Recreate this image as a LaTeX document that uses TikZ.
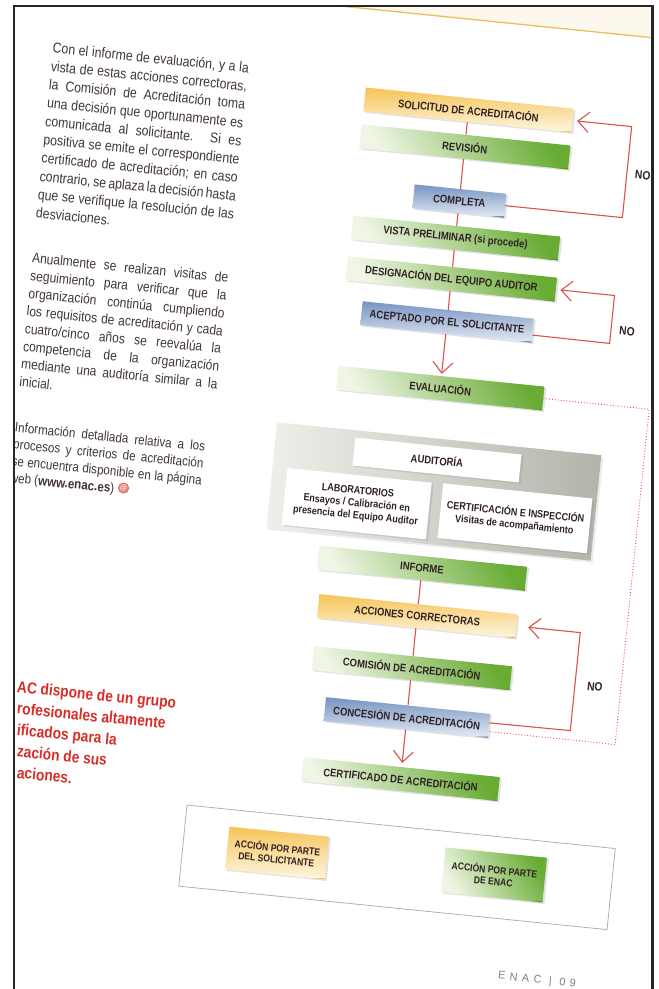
\documentclass[tikz,border=0pt]{standalone}
\usepackage{fontspec}
\setmainfont{Liberation Sans}
\newfontfamily\condfont[FakeStretch=0.86]{Liberation Sans}
\newfontfamily\folfont[LetterSpace=40]{Liberation Sans}
\usetikzlibrary{arrows.meta,shadows}
\definecolor{gnDark}{RGB}{104,172,52}
\definecolor{gnLight}{RGB}{240,246,230}
\definecolor{gnEdge}{RGB}{88,150,44}
\definecolor{ylDark}{RGB}{246,196,88}
\definecolor{ylLight}{RGB}{253,246,226}
\definecolor{ylEdge}{RGB}{232,172,62}
\definecolor{blDark}{RGB}{118,148,194}
\definecolor{blLight}{RGB}{228,234,244}
\definecolor{blEdge}{RGB}{68,98,158}
\definecolor{panelL}{RGB}{240,240,235}
\definecolor{panelR}{RGB}{178,180,170}
\definecolor{arrowRed}{RGB}{218,82,72}
\definecolor{textRed}{RGB}{214,46,40}
\definecolor{bodyText}{RGB}{66,52,62}
\definecolor{boxText}{RGB}{48,32,36}
\definecolor{legendLine}{RGB}{190,172,160}
\definecolor{topCream}{RGB}{252,248,238}
\definecolor{topLine}{RGB}{236,188,96}
\definecolor{frameGray}{RGB}{38,38,38}
\newcommand\jline[2][197pt]{\makebox[#1][s]{#2}}
\begin{document}
\begin{tikzpicture}[x=1pt,y=1pt,
  tabbox/.style={inner sep=0pt, minimum height=24pt, text=boxText,
    font=\condfont\bfseries\fontsize{11}{12}\selectfont,
    drop shadow={shadow xshift=2pt, shadow yshift=-1.5pt, opacity=.22}},
  greenbox/.style={tabbox, left color=gnLight, right color=gnDark, shading angle=120,
    path picture={\draw[gnEdge, line width=2.4pt] (path picture bounding box.south west) -- (path picture bounding box.south east);}},
  yellowbox/.style={tabbox, top color=ylDark, bottom color=ylLight,
    path picture={\draw[ylEdge, line width=2.4pt] (path picture bounding box.south west) -- (path picture bounding box.south east);}},
  bluebox/.style={tabbox, top color=blDark, bottom color=blLight,
    path picture={\draw[blEdge, line width=2.4pt] (path picture bounding box.south west) -- (path picture bounding box.south east);}},
  whitebox/.style={tabbox, fill=white, align=center,
    font=\condfont\bfseries\fontsize{10.5}{12.5}\selectfont},
  panelbox/.style={inner sep=0pt, left color=panelL, right color=panelR,
    drop shadow={shadow xshift=2pt, shadow yshift=-2pt, opacity=.15}},
  bodytext/.style={inner sep=0pt, anchor=north west, align=left, text=bodyText},
  nolabel/.style={inner sep=0pt, text=boxText, font=\condfont\bfseries\fontsize{12}{12}\selectfont},
  link/.style={draw=arrowRed, line width=1.1pt},
  flow/.style={link, -{Straight Barb[length=11pt, width=20pt]}},
  dotline/.style={draw=arrowRed, line width=.9pt, dotted}]
\useasboundingbox (0,0) rectangle (659,-989);
\begin{scope}
\clip (15.4,-7.4) rectangle (650.9,-995);
\begin{scope}[rotate around={-5.8:(440,-480)}, transform shape]
\fill[topCream] (150,-18.5) rectangle (760,80);
\draw[topLine, line width=1.3pt] (150,-18.5) -- (760,-18.5);
\node[bodytext, font=\condfont\fontsize{14.3}{18.4}\selectfont] (para1) at (11,-83.5){\jline{Con el informe de evaluación, y a la}\\
\jline{vista de estas acciones correctoras,}\\
\jline{la Comisión de Acreditación toma}\\
\jline{una decisión que oportunamente es}\\
\jline{comunicada al solicitante. Si es}\\
\jline{positiva se emite el correspondiente}\\
\jline{certificado de acreditación; en caso}\\
\jline{contrario, se aplaza la decisión hasta}\\
\jline{que se verifique la resolución de las}\\
desviaciones.};
\node[bodytext, font=\condfont\fontsize{14}{17.8}\selectfont] (para2) at (11.7,-294.7){\jline{Anualmente se realizan visitas de}\\
\jline{seguimiento para verificar que la}\\
\jline{organización continúa cumpliendo}\\
\jline{los requisitos de acreditación y cada}\\
\jline{cuatro/cinco años se reevalúa la}\\
\jline{competencia de la organización}\\
\jline{mediante una auditoría similar a la}\\
inicial.};
\node[bodytext, font=\condfont\fontsize{13.5}{16.9}\selectfont] (para3) at (11.8,-465){\jline[191pt]{Información detallada relativa a los}\\
\jline[191pt]{procesos y criterios de acreditación}\\
\jline[191pt]{se encuentra disponible en la página}\\
web (\textbf{www.enac.es})};
\node[circle, fill=arrowRed!70, draw=arrowRed, text=white, inner sep=.5pt, font=\bfseries\fontsize{7}{7}\selectfont] (webicon) at (126,-520){@};
\node[bodytext, text=textRed, font=\condfont\bfseries\fontsize{16}{21.4}\selectfont] (staff) at (40,-722){AC dispone de un grupo\\
\hspace*{2.2pt}rofesionales altamente\\
\hspace*{4.3pt}ificados para la\\
\hspace*{6.5pt}zación de sus\\
\hspace*{8.7pt}aciones.};
\node[panelbox, minimum width=326pt, minimum height=106pt] (panel) at (435,-492){};
\node[yellowbox, minimum width=209pt] (solic) at (431,-109){SOLICITUD DE ACREDITACIÓN};
\node[greenbox, minimum width=210pt] (revis) at (431,-146){REVISIÓN};
\draw[link](solic) -- (revis);
\node[bluebox, minimum width=92pt] (compl) at (431,-200.5){COMPLETA};
\draw[link](revis) -- (compl);
\node[greenbox, minimum width=208pt] (vista) at (431,-237.6){VISTA PRELIMINAR (si procede)};
\draw[link](compl) -- (vista);
\node[greenbox, minimum width=210pt] (desig) at (431,-278.8){DESIGNACIÓN DEL EQUIPO AUDITOR};
\draw[link](vista) -- (desig);
\node[bluebox, minimum width=172pt] (acept) at (431,-322){ACEPTADO POR EL SOLICITANTE};
\draw[link](desig) -- (acept);
\node[greenbox, minimum width=207pt] (evalu) at (431,-388.5){EVALUACIÓN};
\draw[flow, shorten >=2pt](acept) -- (evalu);
\coordinate (bend1a) at (595,-200.5);
\coordinate (bend1b) at (595,-109);
\draw[flow, shorten >=4.5pt](compl.east) -- (bend1a) -- (bend1b) -- (solic.east);
\node[nolabel] (no1) at (611,-156){NO};
\coordinate (bend2a) at (595,-327);
\coordinate (bend2b) at (595,-278.8);
\draw[flow, shorten >=4.5pt](acept.-3.3) -- (bend2a) -- (bend2b) -- (desig.east);
\node[nolabel] (no2) at (611,-313){NO};
\node[whitebox, minimum width=167pt, minimum height=28pt, font=\condfont\bfseries\fontsize{11}{12}\selectfont] (audit) at (435,-460.4){AUDITORÍA};
\node[whitebox, minimum width=145pt, minimum height=57pt] (labor) at (359.5,-512){LABORATORIOS\\Ensayos / Calibración en\\presencia del Equipo Auditor};
\node[whitebox, minimum width=150pt, minimum height=55pt] (certi) at (518.5,-510.5){CERTIFICACIÓN E INSPECCIÓN\\Visitas de acompañamiento};
\node[greenbox, minimum width=209pt] (infor) at (431,-569.5){INFORME};
\node[yellowbox, minimum width=199pt] (accio) at (431,-617.7){ACCIONES CORRECTORAS};
\draw[link](infor) -- (accio);
\node[greenbox, minimum width=199pt] (comis) at (431,-670){COMISIÓN DE ACREDITACIÓN};
\draw[link](accio) -- (comis);
\node[bluebox, minimum width=165pt] (conce) at (431,-719.6){CONCESIÓN DE ACREDITACIÓN};
\draw[link](comis) -- (conce);
\node[greenbox, minimum width=197pt] (certa) at (431,-781.5){CERTIFICADO DE ACREDITACIÓN};
\draw[flow, shorten >=4pt](conce) -- (certa);
\coordinate (bend3a) at (595,-716.2);
\coordinate (bend3b) at (595,-617.7);
\draw[flow, shorten >=12pt](conce.2.4) -- (bend3a) -- (bend3b) -- (accio.east);
\node[nolabel] (no3) at (615,-670){NO};
\coordinate (dot1) at (641,-388.5);
\coordinate (dot2) at (641,-725.5);
\draw[dotline](evalu.east) -- (dot1) -- (dot2) -- (conce.-4.1);
\node[draw=legendLine, line width=.8pt, minimum width=430.5pt, minimum height=81.5pt, inner sep=0pt] (legend) at (436.4,-869.7){};
\node[yellowbox, minimum width=100pt, minimum height=43pt, align=center, font=\condfont\bfseries\fontsize{10}{11.5}\selectfont] (legsol) at (315.5,-867.6){ACCIÓN POR PARTE\\DEL SOLICITANTE};
\node[greenbox, minimum width=102pt, minimum height=45pt, align=center, font=\condfont\bfseries\fontsize{10}{11.5}\selectfont] (legenac) at (533.6,-867.5){ACCIÓN POR PARTE\\DE ENAC};
\node[text=black!50, font=\folfont\fontsize{11}{11}\selectfont] (folio) at (587,-967.7){ENAC | 09};
\end{scope}
\end{scope}
\draw[frameGray, line width=2.7pt] (14,-995) -- (14,-6) -- (652.3,-6) -- (652.3,-995);
\end{tikzpicture}
\end{document}
